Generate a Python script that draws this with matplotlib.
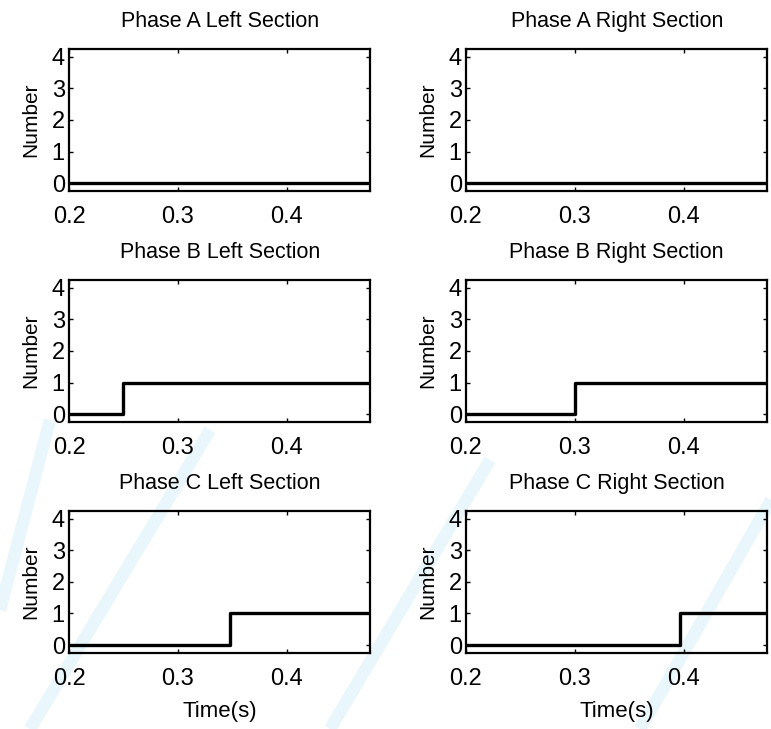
import numpy as np
import matplotlib
matplotlib.use("Agg")
import matplotlib.pyplot as plt

# Step signals: number of active units per phase / section
titles = ["Phase A Left Section", "Phase A Right Section",
          "Phase B Left Section", "Phase B Right Section",
          "Phase C Left Section", "Phase C Right Section"]
step_times = [None, None, 0.25, 0.30, 0.348, 0.397]   # None = never switches
step_levels = [0, 0, 1, 1, 1, 1]
t_start, t_end = 0.2, 0.477
xticks = [0.2, 0.3, 0.4]
yticks = [0, 1, 2, 3, 4]

plt.rcParams["font.family"] = ["Liberation Sans", "DejaVu Sans"]

W, H = 771, 729
fig = plt.figure(figsize=(W / 100, H / 100), dpi=100)

# faint light-blue streaks in the background (pixel coords, y from top)
streaks = [((0, 610), (50, 420)), ((30, 729), (210, 430)),
           ((330, 729), (490, 460)), ((640, 729), (771, 500))]
for (x0, y0), (x1, y1) in streaks:
    fig.add_artist(plt.Line2D([x0 / W, x1 / W], [1 - y0 / H, 1 - y1 / H],
                              transform=fig.transFigure, color="#e9f7fc",
                              lw=9, solid_capstyle="butt", zorder=-1))

lefts = [0.0895, 0.6044]
bottoms = [0.738, 0.4211, 0.1043]
w, h = 0.391, 0.195

for i, title in enumerate(titles):
    r, c = divmod(i, 2)
    ax = fig.add_axes([lefts[c], bottoms[r], w, h])
    ax.patch.set_alpha(0)
    ts = step_times[i]
    if ts is None:
        t = [t_start, t_end]
        y = [0, 0]
    else:
        t = [t_start, ts, ts, t_end]
        y = [0, 0, step_levels[i], step_levels[i]]
    ax.plot(t, y, color="black", lw=2.4, solid_capstyle="butt")
    ax.set_xlim(t_start, t_end)
    ax.set_ylim(-0.25, 4.25)
    ax.set_xticks(xticks)
    ax.set_xticklabels([f"{v:.1f}" for v in xticks])
    ax.set_yticks(yticks)
    ax.tick_params(direction="in", top=True, right=True, labelsize=17,
                   length=3, width=1)
    ax.tick_params(axis="x", pad=11)
    ax.tick_params(axis="y", pad=3)
    for s in ax.spines.values():
        s.set_linewidth(1.6)
    ax.set_title(title, fontsize=15.5, pad=16)
    ax.set_ylabel("Number", fontsize=15, labelpad=8)
    if r == 2:
        ax.set_xlabel("Time(s)", fontsize=16, labelpad=8)

fig.savefig("out.png", dpi=100)
